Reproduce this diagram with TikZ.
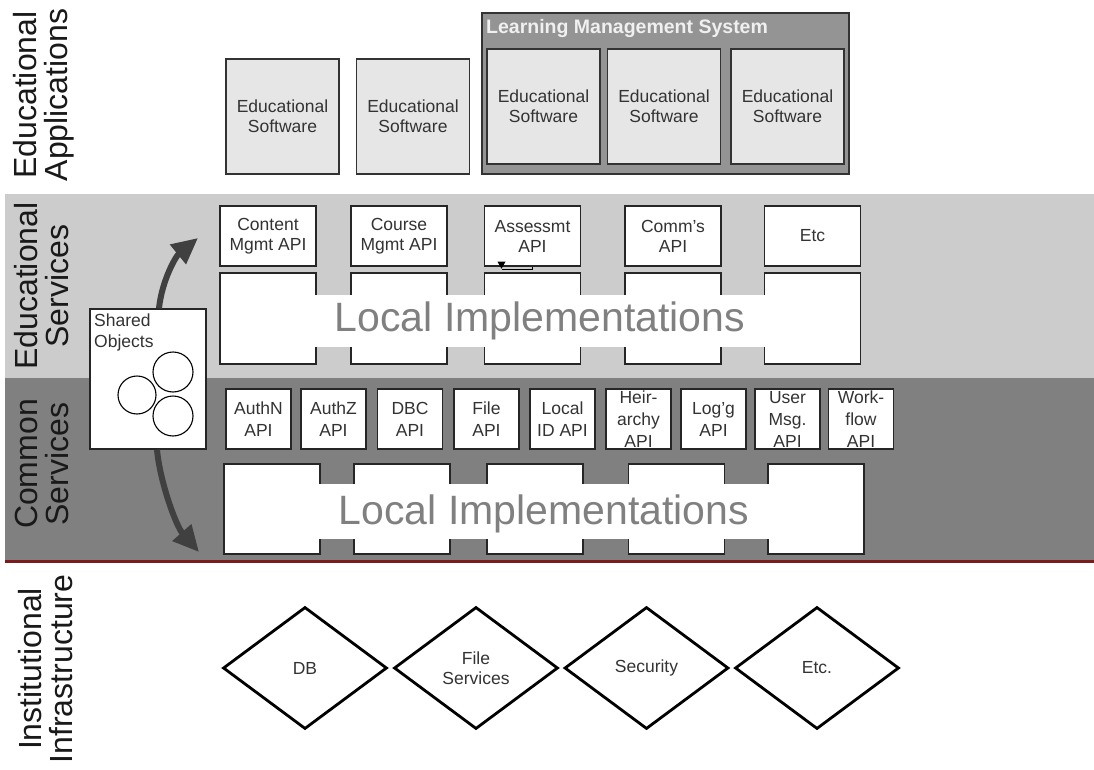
\documentclass[tikz,border=0pt]{standalone}
\usepackage{fontspec}
\setmainfont{Liberation Sans}
\usetikzlibrary{shapes.geometric,arrows.meta}
\definecolor{lightband}{RGB}{204,204,204}
\definecolor{darkband}{RGB}{128,128,128}
\definecolor{lmsgray}{RGB}{148,148,148}
\definecolor{softgray}{RGB}{230,230,230}
\definecolor{redline}{RGB}{122,28,28}
\definecolor{arrowgray}{RGB}{64,64,64}
\definecolor{txtgray}{RGB}{51,51,51}

\begin{document}
\begin{tikzpicture}
  [x=1pt,y=-1pt,
   small/.style={font=\fontsize{17.5}{20}\selectfont, text=txtgray},
   layer/.style={rotate=90, align=center, font=\fontsize{32}{31}\selectfont, text=black!90},
   softbox/.style={draw=black!80, line width=1.4pt, fill=softgray, minimum width=113pt, minimum height=115pt, inner sep=0pt, align=center, small},
   apibox/.style={draw=black!85, line width=1.4pt, fill=white, inner sep=0pt, align=center, small},
   implbox/.style={draw=black!85, line width=1.4pt, fill=white, inner sep=0pt},
   bigtext/.style={font=\fontsize{41}{41}\selectfont, text=black!50},
   infra/.style={diamond, draw=black, line width=2.8pt, minimum width=164pt, minimum height=122pt, inner sep=0pt, align=center, small},
   bigarrow/.style={draw=arrowgray, line width=6pt, -{Triangle[length=26pt,width=24pt]}}]

  \useasboundingbox (0,0) rectangle (1094,770);

  % bands
  \fill[lightband] (5,194) rectangle (1094,378);
  \fill[darkband] (5,378) rectangle (1094,560);
  \draw[redline, line width=3.5pt] (5,561.5) -- (1094,561.5);

  % layer names
  \node[layer] (lapps) at (44,95) {Educational\\Applications};
  \node[layer] (lserv) at (42,286) {Educational\\Services};
  \node[layer] (lcomm) at (42,464) {Common\\Services};
  \node[layer] (linfra) at (46,669) {Institutional\\Infrastructure};

  % applications
  \node[softbox] (sw1) at (282.5,116.5) {Educational\\Software};
  \node[softbox] (sw2) at (413,116.5) {Educational\\Software};
  \node[draw=black!80, line width=1.4pt, fill=lmsgray, minimum width=367pt, minimum height=161pt] (lms) at (665.5,93.5) {};
  \node[anchor=west, inner sep=0pt, text=white!94!black, font=\bfseries\fontsize{19.5}{19.5}\selectfont] (lmstitle) at (486,29) {Learning Management System};
  \foreach \x/\n in {543.5/1,664/2,787.5/3}
    \node[softbox] (lsw\n) at (\x,106.5) {Educational\\Software};

  % educational services
  \foreach \x/\n/\t in {268/cont/{Content\\Mgmt API},399/course/{Course\\Mgmt API},532.5/assess/{Assessmt\\API},673/comm/{Comm's\\API},812.5/etc/Etc}
  {
    \node[apibox, minimum width=96pt, minimum height=60pt] (\n) at (\x,236) {\t};
    \node[implbox, minimum width=96pt, minimum height=91pt] (\n-impl) at (\x,318.5) {};
  }
  \fill[white] (cont-impl.center |- 0,295) rectangle (etc-impl.center |- 0,347);
  \node[bigtext] (eduimpl) at (540,321) {Local Implementations};
  \draw[line width=0.9pt] (assess.south) -- ++(0,3) -- ++(-31,0);
  \fill[black] (assess.south) ++(-35,-5) -- ++(8,0) -- ++(-4,7) -- cycle;

  % common services
  \foreach \x/\n/\t in {258.5/authn/{AuthN\\API}, 333.5/authz/{AuthZ\\API}, 410/dbc/{DBC\\API}, 486.5/file/{File\\API}, 562.5/locid/{Local\\ID API}, 638.5/heir/{Heir-\\archy\\API}, 713.5/logg/{Log'g\\API}, 787.5/umsg/{User\\Msg.\\API}, 861/wflow/{Work-\\flow\\API}}
    \node[apibox, minimum width=65pt, minimum height=60pt, font=\fontsize{17.5}{22}\selectfont] (\n) at (\x,419) {\t};
  \foreach \x/\n in {272/c1,402/c2,535/c3,676.5/c4,816/c5}
    \node[implbox, minimum width=96pt, minimum height=90pt] (\n) at (\x,509) {};
  \fill[white] (c1.center |- 0,484) rectangle (c5.center |- 0,539);
  \node[bigtext] (comimpl) at (544,514) {Local Implementations};

  % shared objects
  \node[draw=black!85, line width=1.4pt, fill=white, minimum width=116pt, minimum height=140pt] (shared) at (148,379) {};
  \node[small, anchor=north west, align=left, inner sep=0pt, font=\fontsize{17.5}{21}\selectfont] (sharedtxt) at (94,314) {Shared\\Objects};
  \draw[line width=1.1pt] (173,372) circle[radius=20pt] (137,395) circle[radius=19pt] (173,416) circle[radius=20pt];
  \coordinate (uptip) at (198,238);
  \coordinate (downtip) at (199,552);
  \draw[bigarrow] ([xshift=11pt]shared.north) .. controls (162,280) and (176,256) .. (uptip);
  \draw[bigarrow] ([xshift=9pt]shared.south) .. controls (160,482) and (176,526) .. (downtip);

  % infrastructure
  \foreach \x/\n/\t in {305/db/DB, 476/fs/{File\\Services}, 646.5/sec/Security, 817/etcinf/{Etc.}}
    \node[infra] (\n) at (\x,668) {\t};
\end{tikzpicture}
\end{document}
